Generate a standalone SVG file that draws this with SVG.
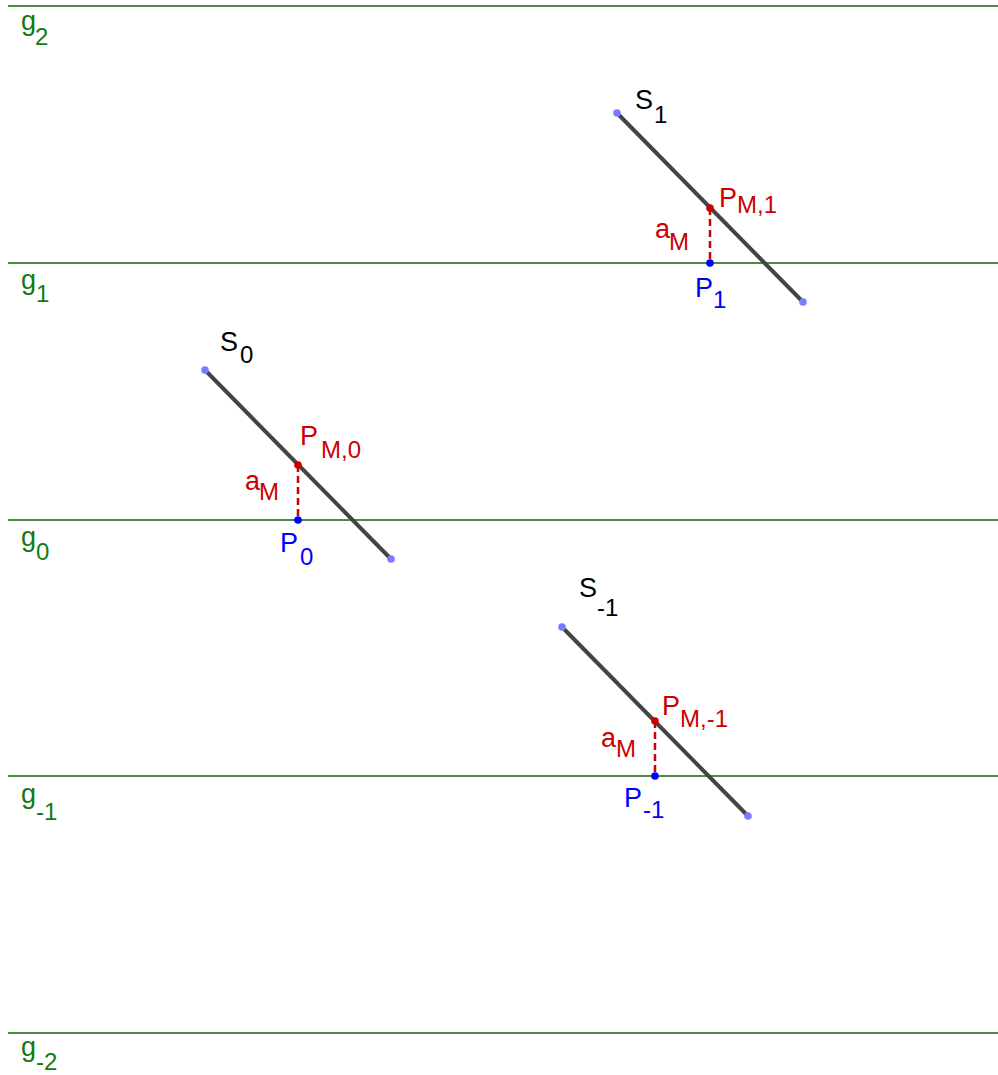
<svg xmlns="http://www.w3.org/2000/svg" width="998" height="1075" viewBox="0 0 998 1075">
<style>
text{font-family:"Liberation Sans",Arial,sans-serif;font-size:27px}
.sub{font-size:24px}
.gl{stroke:#4d8c40;stroke-width:2.2;fill:none}
.gt{fill:#127a12}
.seg{stroke:#444;stroke-width:4;stroke-linecap:round;fill:none}
.end{fill:#7b7bff}
.dash{stroke:#cc0000;stroke-width:2.5;stroke-dasharray:7 4;fill:none}
.red{fill:#cc0000}
.blue{fill:#0000ff}
.blk{fill:#000}
</style>
<rect width="998" height="1075" fill="#fff"/>
<g id="lines">
<line class="gl" x1="8" y1="6" x2="998" y2="6"/>
<line class="gl" x1="8" y1="263" x2="998" y2="263"/>
<line class="gl" x1="8" y1="520" x2="998" y2="520"/>
<line class="gl" x1="8" y1="776" x2="998" y2="776"/>
<line class="gl" x1="8" y1="1033" x2="998" y2="1033"/>
</g>
<g id="line-labels">
<text class="gt" x="21" y="30">g<tspan class="sub" x="35" y="45">2</tspan></text>
<text class="gt" x="21" y="289">g<tspan class="sub" x="36" y="302">1</tspan></text>
<text class="gt" x="21" y="546">g<tspan class="sub" x="36" y="560">0</tspan></text>
<text class="gt" x="21" y="803">g<tspan class="sub" x="36" y="820">-1</tspan></text>
<text class="gt" x="21" y="1056">g<tspan class="sub" x="36" y="1070">-2</tspan></text>
</g>
<g id="connectors">
<line class="seg" x1="617" y1="113" x2="803" y2="302"/>
<line class="seg" x1="205" y1="370" x2="391" y2="559"/>
<line class="seg" x1="562" y1="627" x2="748" y2="816"/>
<line class="dash" x1="710" y1="208" x2="710" y2="263"/>
<line class="dash" x1="298" y1="465" x2="298" y2="520"/>
<line class="dash" x1="655" y1="721" x2="655" y2="776"/>
</g>
<g id="S1">
<circle class="end" cx="617" cy="113" r="3.8"/>
<circle class="end" cx="803" cy="302" r="3.8"/>
<text class="blk" x="635" y="109">S<tspan class="sub" x="654" y="123">1</tspan></text>
</g>
<g id="PM1">
<circle class="red" cx="710" cy="208" r="3.8"/>
<text class="red" x="719" y="207">P<tspan class="sub" x="737" y="213">M,1</tspan></text>
</g>
<g id="aM1">
<text class="red" x="655" y="238">a<tspan class="sub" x="669" y="250">M</tspan></text>
</g>
<g id="P1">
<circle class="blue" cx="710" cy="263" r="3.8"/>
<text class="blue" x="695" y="297">P<tspan class="sub" x="713" y="308">1</tspan></text>
</g>
<g id="S0">
<circle class="end" cx="205" cy="370" r="3.8"/>
<circle class="end" cx="391" cy="559" r="3.8"/>
<text class="blk" x="220" y="351">S<tspan class="sub" x="240" y="363">0</tspan></text>
</g>
<g id="PM0">
<circle class="red" cx="298" cy="465" r="3.8"/>
<text class="red" x="300" y="445">P<tspan class="sub" x="321" y="458">M,0</tspan></text>
</g>
<g id="aM0">
<text class="red" x="245" y="490">a<tspan class="sub" x="259" y="500">M</tspan></text>
</g>
<g id="P0">
<circle class="blue" cx="298" cy="520" r="3.8"/>
<text class="blue" x="280" y="552">P<tspan class="sub" x="300" y="565">0</tspan></text>
</g>
<g id="Sm1">
<circle class="end" cx="562" cy="627" r="3.8"/>
<circle class="end" cx="748" cy="816" r="3.8"/>
<text class="blk" x="579" y="597">S<tspan class="sub" x="597" y="616">-1</tspan></text>
</g>
<g id="PMm1">
<circle class="red" cx="655" cy="721" r="3.8"/>
<text class="red" x="662" y="715">P<tspan class="sub" x="680" y="727">M,-1</tspan></text>
</g>
<g id="aMm1">
<text class="red" x="601" y="747">a<tspan class="sub" x="616" y="757">M</tspan></text>
</g>
<g id="Pm1">
<circle class="blue" cx="655" cy="776" r="3.8"/>
<text class="blue" x="624" y="807">P<tspan class="sub" x="643" y="818">-1</tspan></text>
</g>
</svg>
